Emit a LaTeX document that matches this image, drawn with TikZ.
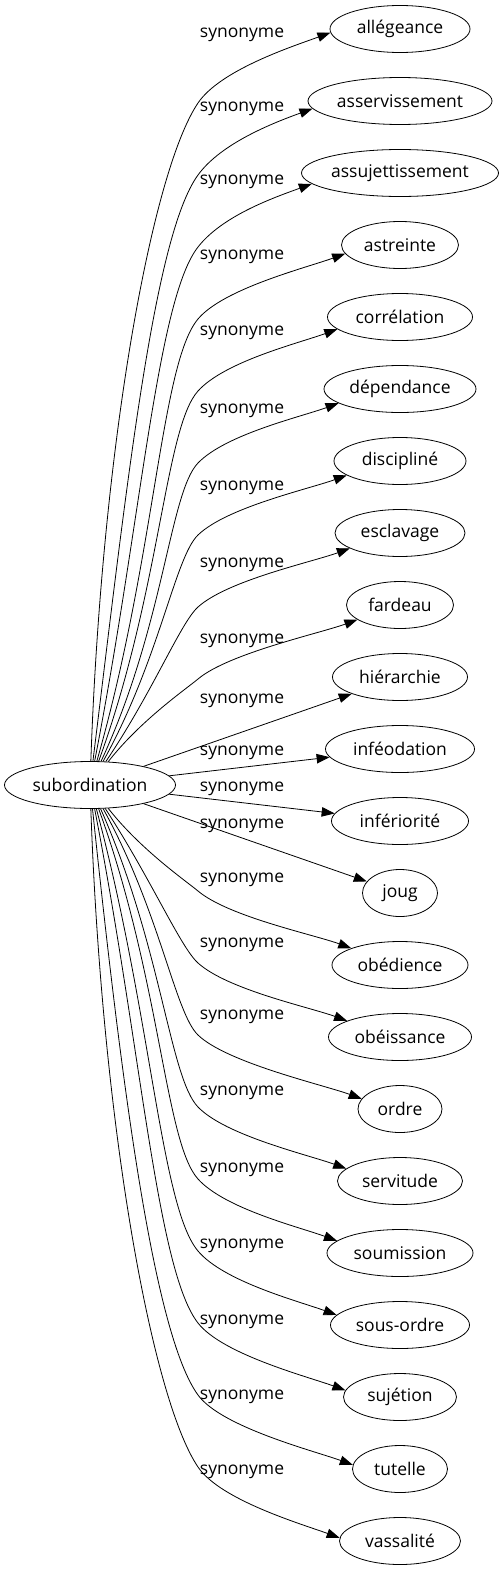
\documentclass[tikz,border=0pt]{standalone}
\usepackage{fontspec}
\setmainfont{Open Sans}
\usetikzlibrary{arrows.meta,calc,shapes.geometric}

\begin{document}
\begin{tikzpicture}[%
    x=1pt, y=1pt,                              % one unit per pixel of the sketch
    >={Triangle[length=13pt,width=9.5pt]},     % filled heads, as in the graph
    line width=0.8pt,
    ]
% -------------------------------------------------
% Box and connector styles
\tikzset{
  base/.style={draw, ellipse, inner sep=0pt, minimum height=47pt,
    font=\fontsize{17.5}{21}\selectfont},
  word/.style={base},
  rel/.style={inner sep=0pt, font=\fontsize{17.5}{21}\selectfont},
  conn/.style={->, draw},
}
\useasboundingbox (0,0) rectangle (503,-1571);
% -------------------------------------------------
% The headword and its synonyms
\node [base, minimum width=171pt] (src) at (90,-785) {subordination};

\foreach \i/\txt/\w/\yl in {0/allégeance/140/35, 1/asservissement/184/109,
    2/assujettissement/197/182, 3/astreinte/117/257, 4/corrélation/145/333,
    5/dépendance/152/411, 6/discipliné/132/488, 7/esclavage/130/565,
    8/fardeau/107/641, 9/hiérarchie/135/701, 10/inféodation/149/753,
    11/infériorité/137/789, 12/joug/75/826, 13/obédience/136/880,
    14/obéissance/143/945, 15/ordre/84/1017, 16/servitude/125/1093,
    17/soumission/146/1170, 18/sous-ordre/139/1246, 19/sujétion/113/1322,
    20/tutelle/95/1397, 21/vassalité/121/1472} {
  \pgfmathsetmacro{\yt}{29+72*\i}
  \node [word, minimum width=\w pt] (t\i) at (400,-\yt) {\txt};
  \node [rel] (l\i) at (242,-\yl) {synonyme};
}
% -------------------------------------------------
% Near ones go straight across
\foreach \i in {9,10,11,12}
  \draw [conn] (src) -- (t\i);

% Far ones climb (or drop) first, then bend over towards the word
\foreach \i/\k/\s in {0/0/1, 1/1/1, 2/2/1, 3/3/1, 4/4/1, 5/5/1, 6/6/1,
    7/7/1, 8/8/1, 13/8/-1, 14/7/-1, 15/6/-1, 16/5/-1, 17/4/-1, 18/3/-1,
    19/2/-1, 20/1/-1, 21/0/-1} {
  \pgfmathtruncatemacro{\as}{\s>0 ? 88-4.5*\k : 272+4.5*\k}
  \pgfmathsetmacro{\ab}{\s*(56-2*\k)}
  \pgfmathtruncatemacro{\ae}{180+\s*(3+2*\k)}
  \pgfmathsetmacro{\at}{\s*20}
  \pgfmathsetmacro{\h}{756-72*\k-97}
  \pgfmathsetmacro{\la}{0.45*\h+15}
  \pgfmathsetmacro{\lb}{0.12*\h+5}
  \pgfmathsetmacro{\yb}{-785+\s*(756-72*\k-74)}
  \coordinate (b\i) at (198,\yb);
  \draw [conn] (src.\as)
    .. controls ($(src.\as)+(\as:\la)$) and ($(b\i)+(\ab+180:\lb)$) .. (b\i)
    .. controls ($(b\i)+(\ab:40)$) and ($(t\i.\ae)+(\at+180:40)$) .. (t\i.\ae);
}
% -------------------------------------------------
\end{tikzpicture}
\end{document}
